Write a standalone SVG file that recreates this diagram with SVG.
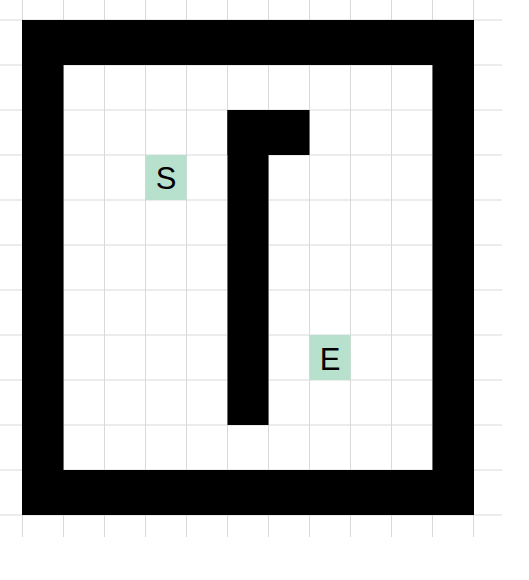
<svg xmlns="http://www.w3.org/2000/svg" width="529" height="580" viewBox="0 0 529 580">
  <style>
    .grid line { stroke: #d9d9d9; stroke-width: 1; }
    .wall { fill: #000000; }
    .mark { fill: #b7e1cd; }
    .lbl { font-family: "Liberation Sans", Arial, sans-serif; font-size: 31px; fill: #000000; text-anchor: middle; }
  </style>
  <rect x="0" y="0" width="529" height="580" fill="#ffffff"/>
  <g id="grid" class="grid">
    <line x1="22.5" y1="0" x2="22.5" y2="537"/>
    <line x1="63.5" y1="0" x2="63.5" y2="537"/>
    <line x1="104.5" y1="0" x2="104.5" y2="537"/>
    <line x1="145.5" y1="0" x2="145.5" y2="537"/>
    <line x1="186.5" y1="0" x2="186.5" y2="537"/>
    <line x1="227.5" y1="0" x2="227.5" y2="537"/>
    <line x1="268.5" y1="0" x2="268.5" y2="537"/>
    <line x1="309.5" y1="0" x2="309.5" y2="537"/>
    <line x1="350.5" y1="0" x2="350.5" y2="537"/>
    <line x1="391.5" y1="0" x2="391.5" y2="537"/>
    <line x1="432.5" y1="0" x2="432.5" y2="537"/>
    <line x1="473.5" y1="0" x2="473.5" y2="537"/>
    <line x1="0" y1="20" x2="502" y2="20"/>
    <line x1="0" y1="65" x2="502" y2="65"/>
    <line x1="0" y1="110" x2="502" y2="110"/>
    <line x1="0" y1="155" x2="502" y2="155"/>
    <line x1="0" y1="200" x2="502" y2="200"/>
    <line x1="0" y1="245" x2="502" y2="245"/>
    <line x1="0" y1="290" x2="502" y2="290"/>
    <line x1="0" y1="335" x2="502" y2="335"/>
    <line x1="0" y1="380" x2="502" y2="380"/>
    <line x1="0" y1="425" x2="502" y2="425"/>
    <line x1="0" y1="470" x2="502" y2="470"/>
    <line x1="0" y1="515" x2="502" y2="515"/>
  </g>
  <g id="walls">
    <rect class="wall" x="22" y="20" width="452" height="45"/>
    <rect class="wall" x="22" y="470" width="452" height="45"/>
    <rect class="wall" x="22" y="20" width="41.5" height="495"/>
    <rect class="wall" x="432.5" y="20" width="41.5" height="495"/>
    <rect class="wall" x="227.5" y="110" width="41" height="315"/>
    <rect class="wall" x="227.5" y="110" width="82" height="45"/>
  </g>
  <g id="start">
    <rect class="mark" x="145.5" y="155" width="41" height="45"/>
    <text class="lbl" x="166" y="189">S</text>
  </g>
  <g id="end">
    <rect class="mark" x="309.5" y="335" width="41" height="45"/>
    <text class="lbl" x="330" y="370">E</text>
  </g>
</svg>
